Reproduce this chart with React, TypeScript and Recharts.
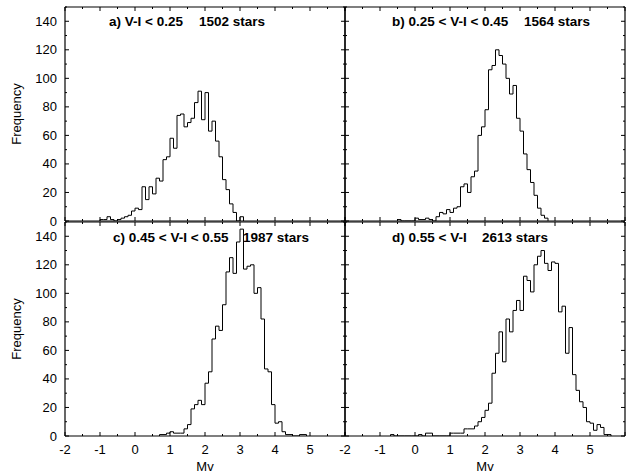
import React from 'react';
import { LineChart, Line, XAxis, YAxis } from 'recharts';

const BIN = 0.1;

// Panel a) V-I < 0.25
const startA = -1.0;
const countsA = [1, 1, 3, 1, 0, 1, 2, 3, 4, 7, 9, 8, 24, 15, 24, 19, 30, 28, 43, 45, 58, 51, 74, 75, 66, 69, 72, 83, 91, 71, 90, 63, 70, 56, 45, 29, 22, 12, 6, 0, 3];

// Panel b) 0.25 < V-I < 0.45
const startB = -0.5;
const countsB = [1, 0, 0, 0, 0, 2, 1, 1, 2, 1, 0, 3, 6, 5, 8, 6, 9, 10, 24, 26, 20, 31, 35, 60, 66, 78, 106, 109, 120, 116, 110, 100, 89, 95, 72, 63, 47, 36, 27, 18, 9, 4, 2];

// Panel c) 0.45 < V-I < 0.55
const startC = 0.7;
const countsC = [1, 1, 2, 3, 2, 2, 2, 5, 8, 19, 22, 25, 22, 37, 45, 68, 77, 74, 92, 115, 125, 114, 136, 145, 117, 119, 120, 100, 104, 82, 47, 45, 22, 9, 10, 3, 1, 1, 0, 0, 1, 1];

// Panel d) 0.55 < V-I
const startD = -0.7;
const countsD = [1, 0, 0, 0, 0, 0, 0, 0, 1, 0, 2, 2, 0, 0, 0, 0, 0, 2, 2, 2, 2, 5, 5, 5, 7, 10, 13, 18, 23, 44, 58, 73, 52, 82, 73, 88, 95, 88, 112, 109, 101, 120, 126, 130, 121, 116, 122, 121, 87, 91, 58, 76, 43, 32, 24, 20, 10, 9, 4, 8, 6, 1, 1];

const xTicks = [-2, -1.5, -1, -0.5, 0, 0.5, 1, 1.5, 2, 2.5, 3, 3.5, 4, 4.5, 5, 5.5, 6];
const xLabels = [-2, -1, 0, 1, 2, 3, 4, 5];
const yTicks = [0, 10, 20, 30, 40, 50, 60, 70, 80, 90, 100, 110, 120, 130, 140, 150];
const yLabels = [0, 20, 40, 60, 80, 100, 120, 140];

const titlesLeft = ['a) V-I < 0.25', 'b) 0.25 < V-I < 0.45', 'c) 0.45 < V-I < 0.55', 'd) 0.55 < V-I'];
const titlesRight = ['1502 stars', '1564 stars', '1987 stars', '2613 stars'];

const FONT = '"Liberation Sans", Arial, Helvetica, sans-serif';
const W = 626;
const H = 475;

function toSteps(start: number, counts: number[]) {
  const pts: { x: number; y: number }[] = [{ x: start, y: 0 }];
  counts.forEach((c, i) => pts.push({ x: +(start + i * BIN).toFixed(2), y: c }));
  pts.push({ x: +(start + counts.length * BIN).toFixed(2), y: 0 });
  return pts;
}

const isMajorX = (v: number) => Math.abs(v - Math.round(v)) < 1e-6;

const makeXTick = (side: 'bottom' | 'top', labels: boolean) => (props: any) => {
  const { x, y, payload } = props;
  const v = payload.value as number;
  const major = isMajorX(v);
  const len = major ? 4 : 2;
  const dir = side === 'bottom' ? -1 : 1;
  return (
    <g>
      <line x1={x} x2={x} y1={y} y2={y + dir * len} stroke="#000" strokeWidth={1} />
      {labels && major && xLabels.includes(Math.round(v)) ? (
        <text x={x} y={y + 18} textAnchor="middle" fontSize={13} fontFamily={FONT} fill="#000">
          {String(Math.round(v))}
        </text>
      ) : null}
    </g>
  );
};

const makeYTick = (side: 'left' | 'right', labels: boolean) => (props: any) => {
  const { x, y, payload } = props;
  const v = payload.value as number;
  const major = v % 20 === 0;
  const len = major ? 4 : 2;
  const dir = side === 'left' ? 1 : -1;
  return (
    <g>
      <line x1={x} x2={x + dir * len} y1={y} y2={y} stroke="#000" strokeWidth={1} />
      {labels && yLabels.includes(v) ? (
        <text x={x - 8} y={y + 4.5} textAnchor="end" fontSize={13} fontFamily={FONT} fill="#000">
          {String(v)}
        </text>
      ) : null}
    </g>
  );
};

type PanelProps = {
  start: number;
  counts: number[];
  left: number;
  right: number;
  top: number;
  bottom: number;
  xLab: boolean;
  yLab: boolean;
};

function Panel({ start, counts, left, right, top, bottom, xLab, yLab }: PanelProps) {
  const data = toSteps(start, counts);
  const yW = 40;
  const xH = 30;
  const margin = {
    left: left - yW,
    right: W - right - 1,
    top: top - 1,
    bottom: H - bottom - xH,
  };
  return (
    <div style={{ position: 'absolute', left: 0, top: 0 }}>
      <LineChart width={W} height={H} data={data} margin={margin}>
        <XAxis
          xAxisId="b"
          dataKey="x"
          type="number"
          domain={[-2, 6]}
          ticks={xTicks}
          interval={0}
          allowDataOverflow
          height={xH}
          tickSize={0}
          tickMargin={0}
          tickLine={false}
          axisLine={{ stroke: '#000', strokeWidth: 1.2 }}
          tick={makeXTick('bottom', xLab)}
        />
        <XAxis
          xAxisId="t"
          orientation="top"
          dataKey="x"
          type="number"
          domain={[-2, 6]}
          ticks={xTicks}
          interval={0}
          allowDataOverflow
          height={1}
          tickSize={0}
          tickMargin={0}
          tickLine={false}
          axisLine={{ stroke: '#000', strokeWidth: 1.2 }}
          tick={makeXTick('top', false)}
        />
        <YAxis
          yAxisId="l"
          type="number"
          domain={[0, 150]}
          ticks={yTicks}
          interval={0}
          allowDataOverflow
          width={yW}
          tickSize={0}
          tickMargin={0}
          tickLine={false}
          axisLine={{ stroke: '#000', strokeWidth: 1.2 }}
          tick={makeYTick('left', yLab)}
        />
        <YAxis
          yAxisId="r"
          orientation="right"
          type="number"
          domain={[0, 150]}
          ticks={yTicks}
          interval={0}
          allowDataOverflow
          width={1}
          tickSize={0}
          tickMargin={0}
          tickLine={false}
          axisLine={{ stroke: '#000', strokeWidth: 1.2 }}
          tick={makeYTick('right', false)}
        />
        <Line
          xAxisId="b"
          yAxisId="l"
          type="stepAfter"
          dataKey="y"
          stroke="#000"
          strokeWidth={1}
          dot={false}
          isAnimationActive={false}
        />
      </LineChart>
    </div>
  );
}

export default function App() {
  return (
    <div style={{ position: 'absolute', left: 0, top: 0, width: W, height: H, background: '#fff' }}>
      <Panel start={startA} counts={countsA} left={65} right={345} top={7} bottom={221} xLab={false} yLab={true} />
      <Panel start={startB} counts={countsB} left={345} right={625} top={7} bottom={221} xLab={false} yLab={false} />
      <Panel start={startC} counts={countsC} left={65} right={345} top={222} bottom={436} xLab={true} yLab={true} />
      <Panel start={startD} counts={countsD} left={345} right={625} top={222} bottom={436} xLab={true} yLab={false} />
      <svg width={W} height={H} style={{ position: 'absolute', left: 0, top: 0, pointerEvents: 'none' }}>
        <g fontFamily={FONT} fontWeight="bold" fontSize={13.5} fill="#000">
          <text x={109} y={26}>{titlesLeft[0]}</text>
          <text x={199} y={26}>{titlesRight[0]}</text>
          <text x={392} y={26}>{titlesLeft[1]}</text>
          <text x={524} y={26}>{titlesRight[1]}</text>
          <text x={113} y={242}>{titlesLeft[2]}</text>
          <text x={243} y={242}>{titlesRight[2]}</text>
          <text x={392} y={242}>{titlesLeft[3]}</text>
          <text x={482} y={242}>{titlesRight[3]}</text>
        </g>
        <g fontFamily={FONT} fontSize={13} fill="#000" textAnchor="middle">
          <text x={205} y={471}>Mv</text>
          <text x={485} y={471}>Mv</text>
          <text transform="translate(21,114) rotate(-90)">Frequency</text>
          <text transform="translate(21,329) rotate(-90)">Frequency</text>
        </g>
      </svg>
    </div>
  );
}
